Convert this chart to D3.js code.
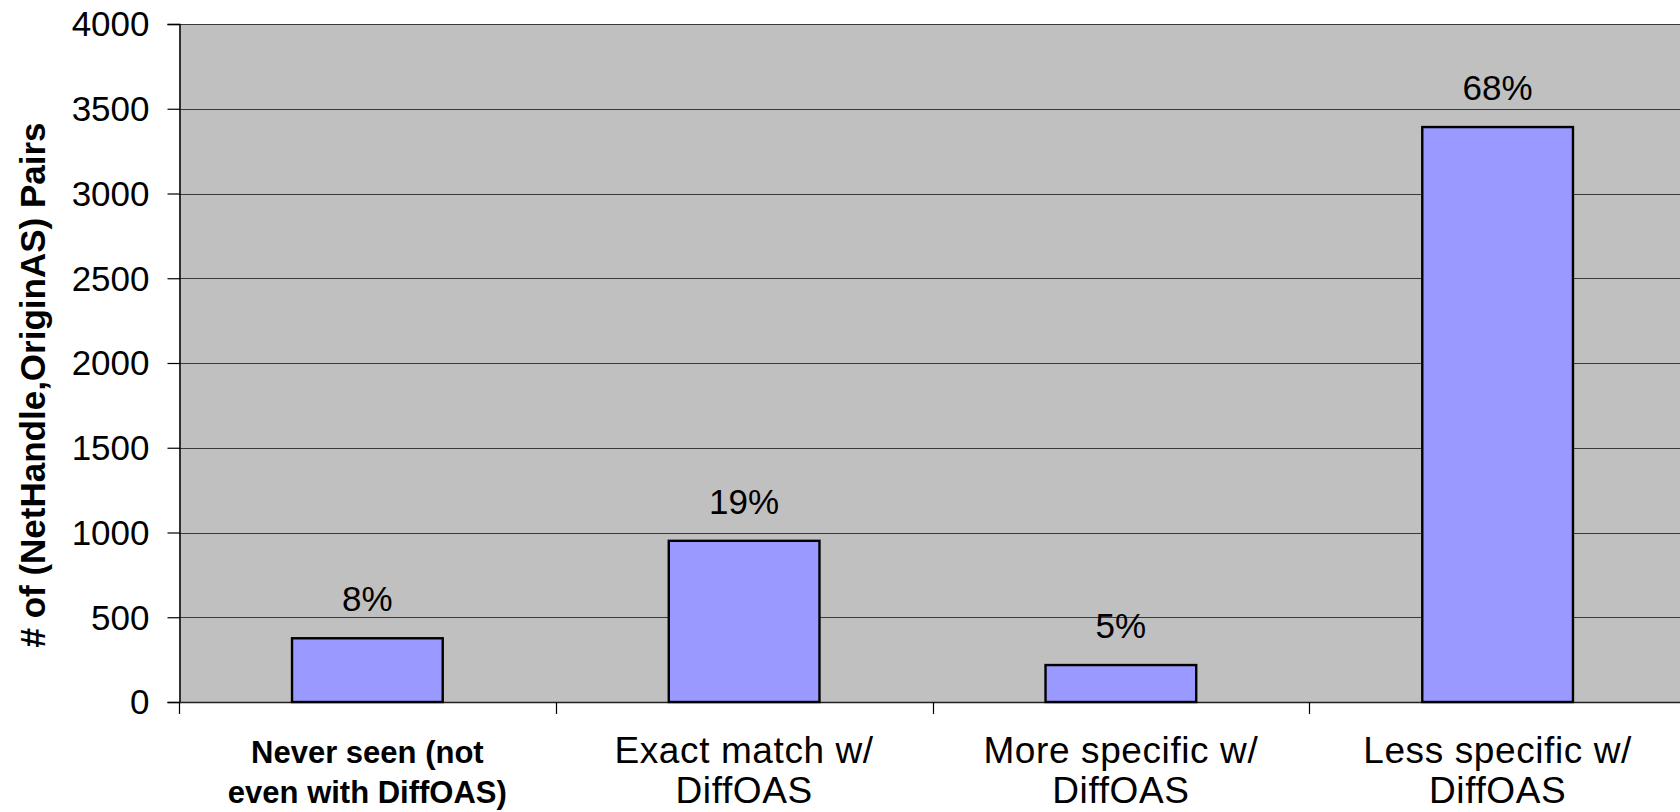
<!DOCTYPE html>
<html>
<head>
<meta charset="utf-8">
<script src="https://cdn.jsdelivr.net/npm/d3@7/dist/d3.min.js"></script>
<style>
  html, body { margin: 0; padding: 0; background: #ffffff; overflow: hidden; }
  svg { display: block; }
  text { font-family: "Liberation Sans", Arial, Helvetica, sans-serif; fill: #000; }
</style>
</head>
<body>
<svg id="chart" width="1680" height="812"></svg>
<script>
// Category labels (two lines each), and whether the label is set in bold
const categoryLines = [
  ["Never seen (not", "even with DiffOAS)"],
  ["Exact match w/", "DiffOAS"],
  ["More specific w/", "DiffOAS"],
  ["Less specific w/", "DiffOAS"]
];
const categoryBold = [true, false, false, false];

// Number of (NetHandle, OriginAS) pairs per category
const pairCounts = [376, 951, 218, 3392];

// Share labels shown above each bar
const shareLabels = ["8%", "19%", "5%", "68%"];

// Y axis ticks
const yTicks = [0, 500, 1000, 1500, 2000, 2500, 3000, 3500, 4000];

const yTitle = "# of (NetHandle,OriginAS) Pairs";

const svg = d3.select("#chart");

const plot = { left: 179, right: 1686, top: 24, bottom: 702 };

const x = d3.scaleBand()
  .domain(d3.range(categoryLines.length))
  .range([plot.left, plot.right])
  .paddingInner(0.6)
  .paddingOuter(0.3);

const y = d3.scaleLinear()
  .domain([0, 4000])
  .range([plot.bottom, plot.top]);

// Plot area background
svg.append("rect")
  .attr("x", plot.left)
  .attr("y", plot.top)
  .attr("width", plot.right - plot.left)
  .attr("height", plot.bottom - plot.top)
  .attr("fill", "#c0c0c0");

// Horizontal gridlines
svg.append("g")
  .selectAll("line")
  .data(yTicks.filter(d => d > 0))
  .join("line")
  .attr("x1", plot.left)
  .attr("x2", plot.right)
  .attr("y1", d => Math.round(y(d)) + 0.5)
  .attr("y2", d => Math.round(y(d)) + 0.5)
  .attr("stroke", "#3a3a3a")
  .attr("stroke-width", 1.2);

// Y axis with tick labels
const yAxis = svg.append("g")
  .attr("transform", `translate(${plot.left + 0.5},0)`)
  .call(d3.axisLeft(y).tickValues(yTicks).tickSize(12).tickPadding(18).tickFormat(d3.format("d")));
yAxis.select(".domain").attr("stroke", "#000").attr("stroke-width", 1.5);
yAxis.selectAll(".tick line").attr("stroke", "#000").attr("stroke-width", 1.2);
yAxis.selectAll(".tick text")
  .attr("font-size", 35)
  .attr("font-family", "'Liberation Sans', Arial, sans-serif")
  .attr("fill", "#000")
  .attr("dy", "0.34em");

// X axis baseline and category separator ticks
const step = x.step();
const sepX = d3.range(categoryLines.length + 1).map(i => plot.left + i * step);
svg.append("line")
  .attr("x1", plot.left)
  .attr("x2", plot.right)
  .attr("y1", plot.bottom + 0.5)
  .attr("y2", plot.bottom + 0.5)
  .attr("stroke", "#222")
  .attr("stroke-width", 1.5);
svg.append("g")
  .selectAll("line")
  .data(sepX)
  .join("line")
  .attr("x1", d => Math.round(d) + 0.5)
  .attr("x2", d => Math.round(d) + 0.5)
  .attr("y1", plot.bottom)
  .attr("y2", plot.bottom + 12)
  .attr("stroke", "#000")
  .attr("stroke-width", 1.2);

// Bars
svg.append("g")
  .selectAll("rect")
  .data(pairCounts)
  .join("rect")
  .attr("x", (d, i) => x(i))
  .attr("y", d => y(d))
  .attr("width", x.bandwidth())
  .attr("height", d => y(0) - y(d))
  .attr("fill", "#9999ff")
  .attr("stroke", "#000")
  .attr("stroke-width", 2.4);

// Share labels above bars
svg.append("g")
  .selectAll("text")
  .data(pairCounts)
  .join("text")
  .attr("x", (d, i) => x(i) + x.bandwidth() / 2)
  .attr("y", d => y(d) - 27)
  .attr("text-anchor", "middle")
  .attr("font-size", 35)
  .text((d, i) => shareLabels[i]);

// Category labels
const catG = svg.append("g")
  .selectAll("text")
  .data(categoryLines)
  .join("text")
  .attr("text-anchor", "middle")
  .attr("font-size", (d, i) => categoryBold[i] ? 31 : 37)
  .attr("font-weight", (d, i) => categoryBold[i] ? "bold" : "normal")
  .attr("letter-spacing", (d, i) => categoryBold[i] ? 0 : 0.6);
catG.selectAll("tspan")
  .data((d, i) => d.map((line, j) => ({ line, j, i })))
  .join("tspan")
  .attr("x", d => x(d.i) + x.bandwidth() / 2)
  .attr("y", d => d.j === 0 ? 763 : 803)
  .text(d => d.line);

// Y axis title
svg.append("text")
  .attr("transform", `translate(45,385) rotate(-90)`)
  .attr("text-anchor", "middle")
  .attr("font-size", 35)
  .attr("font-weight", "bold")
  .text(yTitle);
</script>
</body>
</html>
